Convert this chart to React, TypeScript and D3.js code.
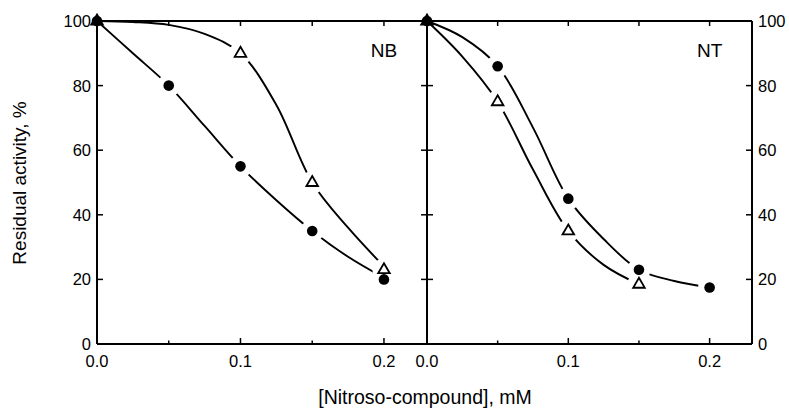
import React from "react";
import * as d3 from "d3";

// ---- data ----
const concentrations = [0, 0.05, 0.1, 0.15, 0.2];
const nbCircle = [100, 80, 55, 35, 20];
const nbTriangle = [100, null, 90, 50, 23];
const ntCircle = [100, 86, 45, 23, 17.5];
const ntTriangle = [100, 75, 35, 18.5, null];

// fitted curves as drawn in the reference
const curveX = [0, 0.025, 0.05, 0.075, 0.1, 0.125, 0.15, 0.175, 0.2];
const nbCircleFit = [100, 90, 80, 67.5, 55, 44.5, 35, 27, 20.5];
const nbTriangleFit = [100, 99.7, 98.8, 96, 90, 74, 50, 36, 24];
const ntCircleFit = [100, 95, 86, 67, 45, 32.5, 23, 19.5, 17.5];
const ntTriangleFit = [100, 89, 75, 54, 35, 24.5, 18.5, null, null];

const xTickValues = [0.05, 0.1, 0.15, 0.2];
const xLabelValues = [0, 0.1, 0.2];
const yTickValues = [20, 40, 60, 80];
const yLabelValues = [0, 20, 40, 60, 80, 100];
const panelNames = ["NB", "NT"];

const W = 789;
const H = 410;
const FONT = "'Liberation Sans', Arial, Helvetica, sans-serif";

export default function App() {
  const y = d3.scaleLinear().domain([0, 100]).range([344, 21]);
  const xL = d3.scaleLinear().domain([0, 0.23]).range([97, 427]);
  const xR = d3.scaleLinear().domain([0, 0.23]).range([427, 752]);

  const lineFor = (xs: any, vals: (number | null)[]) =>
    d3
      .line<[number, number | null]>()
      .defined((d) => d[1] !== null)
      .x((d) => xs(d[0]))
      .y((d) => y(d[1] as number))
      .curve(d3.curveCatmullRom.alpha(0.5))(
        curveX.map((c, i) => [c, vals[i]] as [number, number | null])
      );

  const panels = [
    { x: xL, name: panelNames[0], circle: nbCircle, tri: nbTriangle, cFit: nbCircleFit, tFit: nbTriangleFit },
    { x: xR, name: panelNames[1], circle: ntCircle, tri: ntTriangle, cFit: ntCircleFit, tFit: ntTriangleFit },
  ];

  const triPath = (cx: number, cy: number) =>
    `M${cx},${cy - 6.5}L${cx + 5.8},${cy + 3.5}L${cx - 5.8},${cy + 3.5}Z`;

  const y0 = y(0);
  const y100 = y(100);

  return (
    <svg
      width={W}
      height={H}
      style={{ position: "absolute", left: 0, top: 0, background: "#fff" }}
      fontFamily={FONT}
    >
      <rect x={0} y={0} width={W} height={H} fill="#fff" />
      {/* frames */}
      {panels.map((p, pi) => (
        <g key={"f" + pi}>
          <line x1={p.x(0)} x2={p.x(0.23)} y1={y100} y2={y100} stroke="#000" strokeWidth={2} />
          <line x1={p.x(0)} x2={p.x(0.23)} y1={y0} y2={y0} stroke="#000" strokeWidth={2} />
          {xTickValues.map((t) => (
            <g key={t}>
              <line x1={p.x(t)} x2={p.x(t)} y1={y100} y2={y100 + 5} stroke="#000" strokeWidth={1.5} />
              <line
                x1={p.x(t)}
                x2={p.x(t)}
                y1={y0}
                y2={y0 - (Math.abs(t * 10 - Math.round(t * 10)) < 1e-6 ? 6 : 3.5)}
                stroke="#000"
                strokeWidth={1.5}
              />
            </g>
          ))}
          {xLabelValues.map((t) => (
            <text key={t} x={p.x(t)} y={367} fontSize={16.5} textAnchor="middle" fill="#000">
              {t.toFixed(1)}
            </text>
          ))}
          <text x={p.x(0.2)} y={57} fontSize={19} textAnchor="middle" fill="#000">
            {p.name}
          </text>
        </g>
      ))}
      {/* vertical axes */}
      <line x1={xL(0)} x2={xL(0)} y1={y100} y2={y0} stroke="#000" strokeWidth={2} />
      <line x1={xR(0)} x2={xR(0)} y1={y100} y2={y0} stroke="#000" strokeWidth={2} />
      <line x1={xR(0.23)} x2={xR(0.23)} y1={y100} y2={y0} stroke="#000" strokeWidth={2} />
      {yTickValues.map((t) => (
        <g key={t}>
          <line x1={xL(0)} x2={xL(0) + 6} y1={y(t)} y2={y(t)} stroke="#000" strokeWidth={1.5} />
          <line x1={xR(0) - 6} x2={xR(0) + 6} y1={y(t)} y2={y(t)} stroke="#000" strokeWidth={1.5} />
          <line x1={xR(0.23) - 6} x2={xR(0.23)} y1={y(t)} y2={y(t)} stroke="#000" strokeWidth={1.5} />
        </g>
      ))}
      {yLabelValues.map((t) => (
        <g key={t}>
          <text x={91} y={y(t)} dy="0.36em" fontSize={16.5} textAnchor="end" fill="#000">
            {t}
          </text>
          <text x={758} y={y(t)} dy="0.36em" fontSize={16.5} textAnchor="start" fill="#000">
            {t}
          </text>
        </g>
      ))}
      {/* axis titles */}
      <text
        transform={`translate(26,183) rotate(-90)`}
        fontSize={19}
        textAnchor="middle"
        fill="#000"
      >
        Residual activity, %
      </text>
      <text x={425} y={404} fontSize={19.5} textAnchor="middle" fill="#000">
        [Nitroso-compound], mM
      </text>
      {/* curves */}
      {panels.map((p, pi) => (
        <g key={"c" + pi} fill="none" stroke="#000" strokeWidth={1.9}>
          <path d={lineFor(p.x, p.cFit) || ""} />
          <path d={lineFor(p.x, p.tFit) || ""} />
        </g>
      ))}
      {/* halos (gaps around markers) */}
      {panels.map((p, pi) => (
        <g key={"h" + pi} fill="#fff">
          {concentrations.map((c, i) =>
            c > 0 && p.circle[i] !== null ? (
              <circle key={"hc" + i} cx={p.x(c)} cy={y(p.circle[i] as number)} r={11.5} />
            ) : null
          )}
          {concentrations.map((c, i) =>
            c > 0 && p.tri[i] !== null ? (
              <circle key={"ht" + i} cx={p.x(c)} cy={y(p.tri[i] as number)} r={11.5} />
            ) : null
          )}
        </g>
      ))}
      {/* markers */}
      {panels.map((p, pi) => (
        <g key={"m" + pi}>
          {concentrations.map((c, i) =>
            p.tri[i] !== null ? (
              <path
                key={"t" + i}
                d={triPath(p.x(c), y(p.tri[i] as number))}
                fill="#fff"
                stroke="#000"
                strokeWidth={1.8}
              />
            ) : null
          )}
          {concentrations.map((c, i) =>
            p.circle[i] !== null ? (
              <circle key={"c" + i} cx={p.x(c)} cy={y(p.circle[i] as number)} r={5.3} fill="#000" />
            ) : null
          )}
        </g>
      ))}
    </svg>
  );
}
